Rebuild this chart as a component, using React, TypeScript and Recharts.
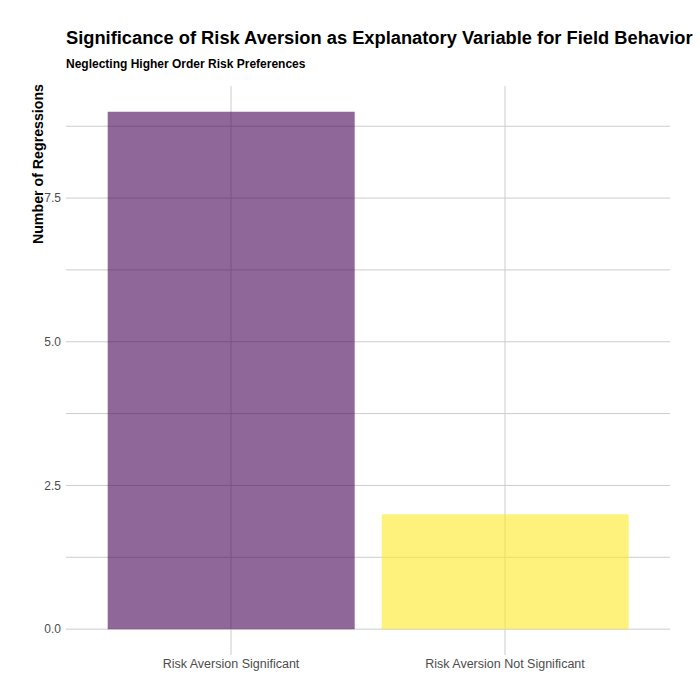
import { BarChart, Bar, XAxis, YAxis, CartesianGrid, Cell } from "recharts";

const categories = ["Risk Aversion Significant", "Risk Aversion Not Significant"];
const counts = [9, 2];
const barColors = ["#440154", "#FDE725"];
const yTicks = [0, 2.5, 5, 7.5];
const yGrid = [0, 1.25, 2.5, 3.75, 5, 6.25, 7.5, 8.75];

const data = categories.map((name, i) => ({ name, count: counts[i] }));

const FONT = "'Liberation Sans', Arial, sans-serif";

export default function App() {
  return (
    <div style={{ position: "absolute", left: 0, top: 0, width: 700, height: 700, background: "#fff", fontFamily: FONT }}>
      <div style={{ position: "absolute", left: 66, top: 27, fontSize: 18.3, fontWeight: "bold", color: "#000", whiteSpace: "nowrap" }}>
        Significance of Risk Aversion as Explanatory Variable for Field Behavior
      </div>
      <div style={{ position: "absolute", left: 66, top: 57, fontSize: 12, fontWeight: "bold", color: "#000", whiteSpace: "nowrap" }}>
        Neglecting Higher Order Risk Preferences
      </div>
      {/* y 轴标题：顶部对齐面板 */}
      <div
        style={{
          position: "absolute",
          left: 30,
          top: 84,
          fontSize: 14.2,
          fontWeight: "bold",
          color: "#000",
          whiteSpace: "nowrap",
          transformOrigin: "0 0",
          transform: "rotate(-90deg) translateX(-100%)",
        }}
      >
        Number of Regressions
      </div>
      <BarChart
        width={700}
        height={700}
        data={data}
        margin={{ top: 86, right: 30, bottom: 15, left: 0 }}
        barCategoryGap="5%"
        style={{ position: "absolute", left: 0, top: 0 }}
      >
        <CartesianGrid stroke="#CCCCCC" horizontalValues={yGrid} verticalValues={categories} />
        <XAxis
          dataKey="name"
          padding={{ left: 28, right: 28 }}
          axisLine={false}
          tickLine={false}
          tickSize={0}
          tickMargin={4}
          height={30}
          tick={{ fontSize: 12.5, fill: "#4D4D4D", fontFamily: FONT }}
        />
        <YAxis
          type="number"
          domain={[-0.45, 9.45]}
          allowDataOverflow
          ticks={yTicks}
          tickFormatter={(v: number) => v.toFixed(1)}
          axisLine={false}
          tickLine={false}
          tickSize={0}
          tickMargin={5}
          width={66}
          tick={{ fontSize: 12, fill: "#4D4D4D", fontFamily: FONT }}
        />
        <Bar dataKey="count" isAnimationActive={false}>
          {data.map((d, i) => (
            <Cell key={d.name} fill={barColors[i]} fillOpacity={0.6} />
          ))}
        </Bar>
      </BarChart>
    </div>
  );
}
